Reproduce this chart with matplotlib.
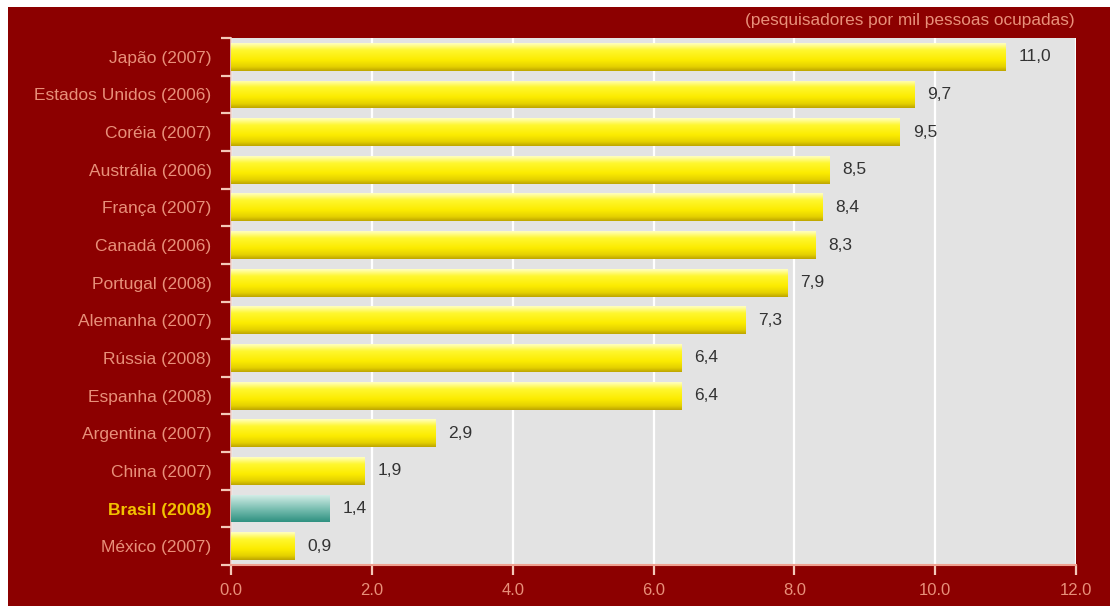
import matplotlib
matplotlib.use("Agg")
import matplotlib.pyplot as plt
import numpy as np
from matplotlib.colors import LinearSegmentedColormap
from matplotlib.patches import Rectangle

plt.rcParams['font.family'] = ['Liberation Sans', 'DejaVu Sans']

# Data (top to bottom as shown)
countries = ["Japão (2007)", "Estados Unidos (2006)", "Coréia (2007)", "Austrália (2006)",
             "França (2007)", "Canadá (2006)", "Portugal (2008)", "Alemanha (2007)",
             "Rússia (2008)", "Espanha (2008)", "Argentina (2007)", "China (2007)",
             "Brasil (2008)", "México (2007)"]
values = [11.0, 9.7, 9.5, 8.5, 8.4, 8.3, 7.9, 7.3, 6.4, 6.4, 2.9, 1.9, 1.4, 0.9]
highlight = "Brasil (2008)"
x_ticks = [0, 2, 4, 6, 8, 10, 12]
unit_note = "(pesquisadores por mil pessoas ocupadas)"

BG_RED = "#8C0000"
SALMON = "#E8907A"
PLOT_BG = "#E3E3E3"

yellow_cmap = LinearSegmentedColormap.from_list(
    "yellow_bar", [(0.0, "#BCA400"), (0.15, "#E4D000"), (0.4, "#FCEC00"),
                   (0.75, "#FFF730"), (1.0, "#FFFFC4")])
teal_cmap = LinearSegmentedColormap.from_list(
    "teal_bar", [(0.0, "#2E9080"), (0.4, "#6EB8AA"), (1.0, "#D8F0EA")])

fig = plt.figure(figsize=(11.10, 6.06), dpi=100)
fig.patch.set_facecolor("white")
fig.add_artist(Rectangle((8 / 1110, 0), 1, 1 - 7 / 606, transform=fig.transFigure,
                         facecolor=BG_RED, edgecolor="none", zorder=-10))

ax = fig.add_axes([231 / 1110, 41 / 606, 845 / 1110, 527 / 606])
ax.set_facecolor(PLOT_BG)

n = len(countries)
ypos = np.arange(n)[::-1]
bars = ax.barh(ypos, values, height=0.74, color="none", edgecolor="none", zorder=3)

grad = np.linspace(0, 1, 256).reshape(-1, 1)
for bar, name, v in zip(bars, countries, values):
    x0, y0 = bar.get_x(), bar.get_y()
    w, h = bar.get_width(), bar.get_height()
    cmap = teal_cmap if name == highlight else yellow_cmap
    im = ax.imshow(grad, cmap=cmap, aspect="auto", origin="lower",
                   extent=(x0, x0 + w, y0, y0 + h), zorder=3, interpolation="bicubic")
    im.set_clip_path(bar)
    ax.text(v + 0.18, y0 + h / 2, f"{v:.1f}".replace(".", ","), va="center", ha="left",
            fontsize=12.5, color="#333333", zorder=4)

ax.set_xlim(0, 12)
ax.set_ylim(-0.5, n - 0.5)
ax.set_xticks(x_ticks)
ax.set_xticklabels([f"{t:.1f}" for t in x_ticks], color=SALMON, fontsize=12)
ax.xaxis.grid(True, color="white", linewidth=1.6, zorder=1)
ax.set_axisbelow(True)

ax.set_yticks(ypos)
ax.set_yticklabels(countries, fontsize=12.5, color=SALMON)
for lbl in ax.get_yticklabels():
    if lbl.get_text() == highlight:
        lbl.set_color("#F2C200")
        lbl.set_fontweight("bold")
ax.set_yticks(np.arange(-0.5, n, 1.0), minor=True)
ax.tick_params(axis="y", which="major", length=0, pad=14)
ax.tick_params(axis="y", which="minor", length=7, width=1.6, color="#F4C8B8", direction="out")
ax.tick_params(axis="x", which="major", length=7, width=1.6, color="#F4C8B8",
               direction="out", pad=6)

for side in ["top", "right"]:
    ax.spines[side].set_visible(False)
ax.spines["left"].set_color("#F0D0C8")
ax.spines["bottom"].set_color("#F0A090")
ax.spines["left"].set_linewidth(1.2)
ax.spines["bottom"].set_linewidth(1.5)

fig.text(1075 / 1110, 1 - 21 / 606, unit_note, ha="right", va="center",
         fontsize=12.4, color=SALMON)

fig.savefig("out.png", dpi=100, facecolor=fig.get_facecolor())
